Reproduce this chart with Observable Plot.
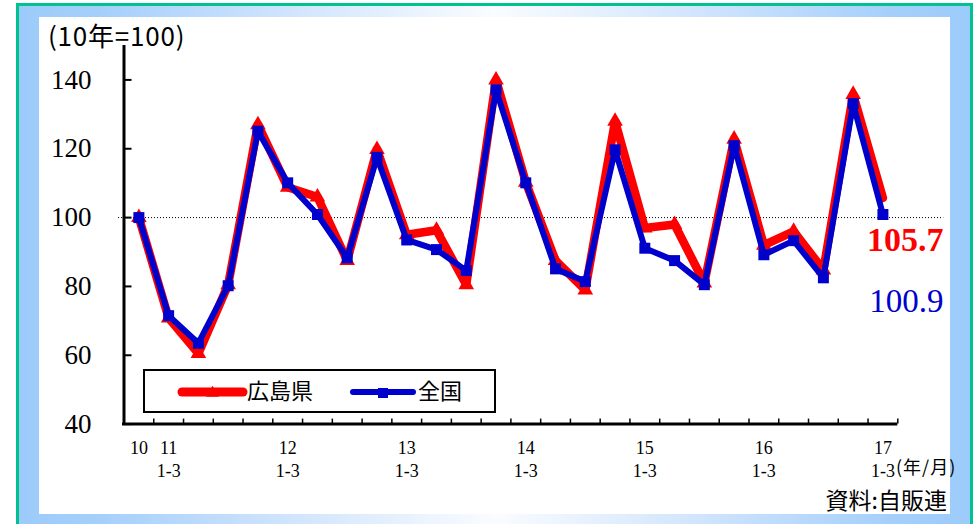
<!DOCTYPE html>
<html><head><meta charset="utf-8">
<script src="https://cdn.jsdelivr.net/npm/d3@7"></script>
<script src="https://cdn.jsdelivr.net/npm/@observablehq/plot@0.6"></script>
<style>
html,body{margin:0;padding:0;background:#fff;}
#wrap{position:relative;width:978px;height:524px;overflow:hidden;font-family:"Noto Sans CJK JP","Noto Sans",sans-serif;}
#green{position:absolute;left:16px;top:3px;width:957px;height:540px;box-sizing:border-box;border:3px solid #00C28E;}
#band{position:absolute;left:19px;top:6px;width:951px;height:530px;background:linear-gradient(to right,#9ccbfb 0%,#a4cffb 8%,#cfe4fd 28%,#fafcff 50%,#cfe4fd 72%,#a4cffb 92%,#9ccbfb 100%);}
#inner{position:absolute;left:39px;top:17px;width:911px;height:497px;background:#fff;}
#chart{position:absolute;left:0;top:0;}
.lbl{position:absolute;line-height:1;white-space:nowrap;color:#000;}
#legend{position:absolute;left:143px;top:369px;width:353px;height:44px;box-sizing:border-box;border:2px solid #000;background:#fff;}
</style></head><body>
<div id="wrap">
  <div id="green"></div><div id="band"></div><div id="inner"></div>
  <div id="chart"></div>
  <div class="lbl" style="left:48px;top:22px;font-size:26px;letter-spacing:0.8px;">(10年=100)</div>
  <div class="lbl" style="left:896px;top:457px;font-size:18px;letter-spacing:1px;">(年/月)</div>
  <div class="lbl" style="right:31px;top:488px;font-size:23px;">資料:自販連</div>
  <div id="legend"></div>
</div>
<script>
// ---- data ----
const periods = ["10","11/1-3","11/4-6","11/7-9","11/10-12","12/1-3","12/4-6","12/7-9","12/10-12",
  "13/1-3","13/4-6","13/7-9","13/10-12","14/1-3","14/4-6","14/7-9","14/10-12",
  "15/1-3","15/4-6","15/7-9","15/10-12","16/1-3","16/4-6","16/7-9","16/10-12","17/1-3"];
const xTickLabels = ["10","11\n1-3","","","","12\n1-3","","","","13\n1-3","","","","14\n1-3","","","",
  "15\n1-3","","","","16\n1-3","","","","17\n1-3"];
const hiroshima = [100, 70.8, 60.5, 80.5, 127, 108.8, 106, 87.5, 119.8, 95, 96.3, 80.5, 140, 110.3,
  87.5, 79, 128, 97, 98, 81, 122.8, 92, 96, 84.8, 135.8, 105.7];
const zenkoku = [100, 71.5, 63.5, 80.2, 125.1, 110.1, 100.9, 88.3, 117.5, 93.5, 90.7, 84.6, 137.1, 110.1,
  85.1, 81.4, 119.7, 91.1, 87.5, 80.5, 120.9, 89.2, 93.3, 82.5, 133.1, 100.9];
const yTicks = [40, 60, 80, 100, 120, 140];
const seriesNames = ["広島県", "全国"];
const lastLabels = ["105.7", "100.9"];

const RED = "#FF0000", BLUE = "#0000CC";
const SERIF = "Liberation Serif, Times New Roman, serif";
const W = 978, H = 524;
const mL = 123.5, mR = 80.7, mT = 45, mB = 100.4;
const frameW = W - mL - mR, frameH = H - mT - mB;

const rows = periods.map((p, i) => ({i, period: p, label: xTickLabels[i], hiroshima: hiroshima[i], zenkoku: zenkoku[i]}));
const xDomain = [-0.5, periods.length - 0.5];
const yDomain = [40, 150];
const boundaries = d3.range(periods.length + 1).map(k => k - 0.5);
const last = rows[rows.length - 1];

const plot = Plot.plot({
  width: W, height: H,
  marginLeft: mL, marginRight: mR, marginTop: mT, marginBottom: mB,
  style: {background: "none", overflow: "visible"},
  x: {domain: xDomain, axis: null},
  y: {domain: yDomain, axis: null},
  marks: [
    Plot.ruleY([100], {stroke: "#000", strokeWidth: 1, strokeDasharray: "1,2", insetLeft: -5.5, insetRight: -46}),
    Plot.tickY(yTicks, {y: d => d, stroke: "#000", strokeWidth: 2, insetRight: frameW - 8}),
    Plot.tickX(boundaries, {x: d => d, stroke: "#000", strokeWidth: 1.5, insetTop: frameH - 5}),
    Plot.ruleX([xDomain[0]], {stroke: "#000", strokeWidth: 3}),
    Plot.ruleY([yDomain[0]], {stroke: "#000", strokeWidth: 3, insetLeft: -1.5}),
    Plot.text(yTicks, {y: d => d, text: d => String(d), frameAnchor: "left", textAnchor: "end", dx: -32.5,
      fontSize: 27, fontFamily: SERIF, fill: "#000"}),
    Plot.text(rows.filter(d => d.label), {x: "i", text: "label", frameAnchor: "bottom", lineAnchor: "top",
      dy: 14, lineHeight: 1.28, fontSize: 18, fontFamily: SERIF, fill: "#000"}),
    Plot.line(rows, {x: "i", y: "hiroshima", stroke: RED, strokeWidth: 8.5, strokeLinejoin: "round", strokeLinecap: "round"}),
    Plot.dot(rows.slice(0, -1), {x: "i", y: "hiroshima", symbol: "triangle", r: 5.8, fill: RED, stroke: "none"}),
    Plot.line(rows, {x: "i", y: "zenkoku", stroke: BLUE, strokeWidth: 6, strokeLinejoin: "round", strokeLinecap: "round"}),
    Plot.dot(rows, {x: "i", y: "zenkoku", symbol: "square", r: 6.2, fill: BLUE, stroke: "none"}),
    Plot.text([last], {x: "i", y: "hiroshima", text: () => lastLabels[0], textAnchor: "end", dx: 60.6, dy: 42,
      fontSize: 34, fontWeight: "bold", fontFamily: SERIF, fill: RED}),
    Plot.text([last], {x: "i", y: "zenkoku", text: () => lastLabels[1], textAnchor: "end", dx: 60.6, dy: 86.5,
      fontSize: 33, fontFamily: SERIF, fill: BLUE})
  ]
});
document.getElementById("chart").appendChild(plot);

// ---- legend ----
const legend = d3.select("#legend");
const lsvg = legend.append("svg").attr("width", 349).attr("height", 40)
  .style("position", "absolute").style("left", "0px").style("top", "0px");
const legItems = [
  {name: seriesNames[0], color: RED, sw: 9, x1: 37, x2: 98, sym: d3.symbolTriangle, size: 70, tx: 102},
  {name: seriesNames[1], color: BLUE, sw: 6, x1: 208, x2: 268, sym: d3.symbolSquare, size: 100, tx: 273}
];
legItems.forEach(it => {
  lsvg.append("line").attr("x1", it.x1).attr("x2", it.x2).attr("y1", 21).attr("y2", 21)
    .attr("stroke", it.color).attr("stroke-width", it.sw).attr("stroke-linecap", "round");
  lsvg.append("path").attr("d", d3.symbol(it.sym, it.size)())
    .attr("transform", `translate(${(it.x1 + it.x2) / 2},22)`).attr("fill", it.color);
  legend.append("div").attr("class", "lbl").style("left", it.tx + "px").style("top", "7px")
    .style("font-size", "22px").text(it.name);
});
</script>
</body></html>
